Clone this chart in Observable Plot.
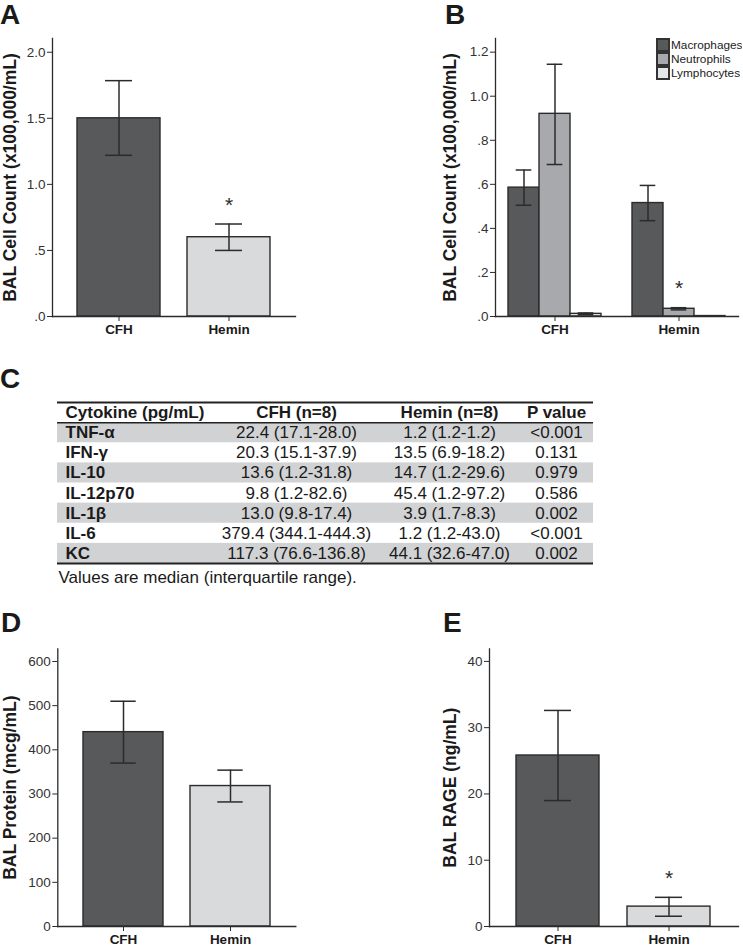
<!DOCTYPE html>
<html><head><meta charset="utf-8">
<script src="https://cdn.jsdelivr.net/npm/d3@7"></script>
<script src="https://cdn.jsdelivr.net/npm/@observablehq/plot@0.6"></script>
<style>
html,body{margin:0;padding:0;background:#fff;}
#page{position:relative;width:743px;height:946px;overflow:hidden;background:#fff;font-family:"Liberation Sans",Arial,Helvetica,sans-serif;}
.panel{position:absolute;}
.letter{position:absolute;font-weight:bold;font-size:28px;line-height:28px;color:#1a1a1a;font-family:"Liberation Sans",Arial,sans-serif;}
#legB{position:absolute;left:657px;top:38px;color:#222;}
#legB, #legB *{font-size:11.8px !important;font-family:"Liberation Sans",Arial,sans-serif !important;color:#222 !important;}
#legB .legb-swatch{height:14px;padding:0 !important;margin:0 !important;display:flex;align-items:center;}
#legB svg{margin-right:2px !important;}
#legB svg rect{stroke:#333;stroke-width:2px;}
</style></head>
<body>
<div id="page">
  <div class="letter" style="left:0px;top:1px">A</div>
  <div class="letter" style="left:445px;top:1px">B</div>
  <div class="letter" style="left:0px;top:365px">C</div>
  <div class="letter" style="left:1px;top:609px">D</div>
  <div class="letter" style="left:443px;top:609px">E</div>
</div>
<script>
// ---------- DATA ----------
const groups = ["CFH", "Hemin"];
const groupColors = ["#58595b", "#d9dadb"];

// Panel A: BAL cell count (x100,000/mL)
const totalCellMean = [1.50, 0.60];
const totalCellLo = [1.22, 0.50];
const totalCellHi = [1.785, 0.70];
const totalCellSig = [false, true];

// Panel B: differential cell counts
const cellTypes = ["Macrophages", "Neutrophils", "Lymphocytes"];
const cellColors = ["#58595b", "#a7a9ac", "#e6e7e8"];
const cfhCellMean = [0.585, 0.92, 0.012];
const cfhCellLo = [0.505, 0.69, 0.008];
const cfhCellHi = [0.665, 1.145, 0.016];
const heminCellMean = [0.515, 0.035, 0.002];
const heminCellLo = [0.435, 0.030, 0.001];
const heminCellHi = [0.595, 0.040, 0.003];
const heminCellSig = [false, true, false];

// Panel C: cytokine table
const tableHeaders = ["Cytokine (pg/mL)", "CFH (n=8)", "Hemin (n=8)", "P value"];
const cytokines = ["TNF-α", "IFN-γ", "IL-10", "IL-12p70", "IL-1β", "IL-6", "KC"];
const cfhMedian = [22.4, 20.3, 13.6, 9.8, 13.0, 379.4, 117.3];
const cfhQ1 = [17.1, 15.1, 1.2, 1.2, 9.8, 344.1, 76.6];
const cfhQ3 = [28.0, 37.9, 31.8, 82.6, 17.4, 444.3, 136.8];
const heminMedian = [1.2, 13.5, 14.7, 45.4, 3.9, 1.2, 44.1];
const heminQ1 = [1.2, 6.9, 1.2, 1.2, 1.7, 1.2, 32.6];
const heminQ3 = [1.2, 18.2, 29.6, 97.2, 8.3, 43.0, 47.0];
const pValues = ["<0.001", "0.131", "0.979", "0.586", "0.002", "<0.001", "0.002"];
const tableNote = "Values are median (interquartile range).";

// Panel D: BAL protein (mcg/mL)
const proteinMean = [440, 318];
const proteinLo = [370, 282];
const proteinHi = [510, 354];
const proteinSig = [false, false];

// Panel E: BAL RAGE (ng/mL)
const rageMean = [25.8, 3.0];
const rageLo = [19.0, 1.55];
const rageHi = [32.6, 4.4];
const rageSig = [false, true];

// ---------- HELPERS ----------
const FONT = '"Liberation Sans", Arial, Helvetica, sans-serif';
const INK = "#2b2b2b";
const page = document.getElementById("page");
const dotFmt = d => d3.format(".1f")(d).replace(/^0\./, ".");
const intFmt = d => d3.format("d")(d);

function place(el, left, top) {
  el.classList.add("panel");
  el.style.left = left + "px";
  el.style.top = top + "px";
  page.appendChild(el);
}

function commonMarks(rows, xKey, capInset, yTicks, tickFmt, yLabel, labelDx, xTicks, xTickFmt) {
  return [
    Plot.barY(rows, {x: xKey, y: "mean", fill: d => d.colorKey, stroke: INK, strokeWidth: 1.4}),
    Plot.ruleX(rows, {x: xKey, y1: "lo", y2: "hi", stroke: INK, strokeWidth: 1.5}),
    Plot.tickY(rows, {x: xKey, y: "lo", stroke: INK, strokeWidth: 1.5, insetLeft: capInset, insetRight: capInset}),
    Plot.tickY(rows, {x: xKey, y: "hi", stroke: INK, strokeWidth: 1.5, insetLeft: capInset, insetRight: capInset}),
    Plot.text(rows.filter(d => d.sig), {x: xKey, y: "hi", text: () => "*", dy: -19, fontSize: 21, fill: INK}),
    Plot.frame({anchor: "left", stroke: INK, strokeWidth: 1.3}),
    Plot.frame({anchor: "bottom", stroke: INK, strokeWidth: 1.3}),
    Plot.axisY({ticks: yTicks, tickFormat: tickFmt, tickSize: 5, tickPadding: 2, stroke: INK, fill: "#333", fontSize: 13.5, label: null}),
    Plot.axisX({ticks: xTicks, tickFormat: xTickFmt, tickSize: 5, tickPadding: 3, stroke: INK, fill: "#1a1a1a", fontSize: 13.5, fontWeight: "bold", label: null}),
    Plot.text([yLabel], {frameAnchor: "left", textAnchor: "middle", lineAnchor: "middle", rotate: -90, dx: labelDx,
      fontSize: 17.5, fontWeight: "bold", fill: "#1a1a1a"})
  ];
}

function groupPanel(opt) {
  const rows = groups.map((g, i) => ({group: g, colorKey: g, mean: opt.mean[i], lo: opt.lo[i], hi: opt.hi[i], sig: opt.sig[i]}));
  return Plot.plot({
    width: opt.width, height: opt.height,
    marginLeft: opt.ml, marginRight: opt.mr, marginTop: opt.mt, marginBottom: opt.mb,
    style: {fontFamily: FONT, fontSize: "13.5px", color: "#333", background: "transparent", overflow: "visible"},
    x: {type: "band", domain: groups, paddingInner: opt.pi, paddingOuter: opt.po},
    y: {domain: opt.yDomain},
    color: {domain: groups, range: groupColors},
    marks: commonMarks(rows, "group", opt.cap, opt.yTicks, opt.tickFmt, opt.yLabel, opt.labelDx, undefined, d => d)
  });
}

// ---------- PANEL A ----------
const chartA = groupPanel({
  mean: totalCellMean, lo: totalCellLo, hi: totalCellHi, sig: totalCellSig,
  width: 370, height: 340, ml: 52, mr: 75, mt: 38, mb: 24, pi: 0.245, po: 0.227, cap: 28,
  yDomain: [0, 2.104], yTicks: [0, 0.5, 1, 1.5, 2], tickFmt: dotFmt,
  yLabel: "BAL Cell Count (x100,000/mL)", labelDx: -42
});
place(chartA, 0, 0);

// ---------- PANEL B ----------
const bRows = [];
const bMean = [cfhCellMean, heminCellMean], bLo = [cfhCellLo, heminCellLo], bHi = [cfhCellHi, heminCellHi];
const bSig = [[false, false, false], heminCellSig];
groups.forEach((g, gi) => cellTypes.forEach((t, ti) => bRows.push({
  key: g + "|" + t, group: g, colorKey: t, mean: bMean[gi][ti], lo: bLo[gi][ti], hi: bHi[gi][ti], sig: bSig[gi][ti]
})));
const bDomain = [];
groups.forEach((g, gi) => {
  if (gi > 0) bDomain.push("gap");
  cellTypes.forEach(t => bDomain.push(g + "|" + t));
});
const chartB = Plot.plot({
  width: 373, height: 340, marginLeft: 125, marginRight: 5, marginTop: 38, marginBottom: 24,
  style: {fontFamily: FONT, fontSize: "13.5px", color: "#333", background: "transparent", overflow: "visible"},
  x: {type: "band", domain: bDomain, paddingInner: 0, paddingOuter: 0.375},
  y: {domain: [0, 1.262]},
  color: {domain: cellTypes, range: cellColors},
  marks: commonMarks(bRows, "key", 7.7, [0, 0.2, 0.4, 0.6, 0.8, 1.0, 1.2], dotFmt,
    "BAL Cell Count (x100,000/mL)", -45,
    groups.map(g => g + "|" + cellTypes[1]), d => d.split("|")[0])
});
place(chartB, 370, 0);
const legB = document.createElement("div");
legB.id = "legB";
legB.appendChild(chartB.legend("color", {legend: "swatches", columns: 1, swatchSize: 12, className: "legb"}));
page.appendChild(legB);

// ---------- PANEL C (table) ----------
const fmt1 = d => d.toFixed(1);
const tableRows = cytokines.map((c, i) => ({
  row: i + 1,
  cols: [c,
    `${fmt1(cfhMedian[i])} (${fmt1(cfhQ1[i])}-${fmt1(cfhQ3[i])})`,
    `${fmt1(heminMedian[i])} (${fmt1(heminQ1[i])}-${fmt1(heminQ3[i])})`,
    pValues[i]]
}));
// band x-scale: 4 bands of 134px over [57, 593]; centres 124, 258, 392, 526
const colLayout = [
  {anchor: "start", dx: -59},
  {anchor: "middle", dx: 38},
  {anchor: "middle", dx: 57},
  {anchor: "middle", dx: 30}
];
const tableMarks = [
  Plot.rect(tableRows.filter(d => d.row % 2 === 1), {y1: d => d.row, y2: d => d.row + 1, fill: "#d1d2d4"}),
  Plot.ruleY([0], {stroke: "#222", strokeWidth: 2}),
  Plot.ruleY([1], {stroke: "#222", strokeWidth: 1.5}),
  Plot.ruleY([tableRows.length + 1], {stroke: "#222", strokeWidth: 2})
];
tableHeaders.forEach((h, ci) => {
  const L = colLayout[ci];
  tableMarks.push(Plot.text([h], {x: () => h, y: () => 0.5, text: d => d, textAnchor: L.anchor, dx: L.dx,
    fontWeight: "bold", fontSize: 17, fill: "#1a1a1a"}));
  tableMarks.push(Plot.text(tableRows, {x: () => h, y: d => d.row + 0.5, text: d => d.cols[ci], textAnchor: L.anchor, dx: L.dx,
    fontWeight: ci === 0 ? "bold" : "normal", fontSize: 17, fill: "#1a1a1a"}));
});
tableMarks.push(Plot.text([tableNote], {frameAnchor: "bottom-left", textAnchor: "start", lineAnchor: "middle", dy: 14, dx: 1, fontSize: 17, fill: "#1a1a1a"}));
const chartC = Plot.plot({
  width: 743, height: 260, marginLeft: 57, marginRight: 150, marginTop: 62, marginBottom: 37,
  style: {fontFamily: FONT, fontSize: "17px", color: "#1a1a1a", background: "transparent", overflow: "visible"},
  x: {type: "band", domain: tableHeaders, padding: 0, axis: null},
  y: {domain: [0, tableRows.length + 1], reverse: true, axis: null},
  marks: tableMarks
});
place(chartC, 0, 340);

// ---------- PANEL D ----------
const chartD = groupPanel({
  mean: proteinMean, lo: proteinLo, hi: proteinHi, sig: proteinSig,
  width: 370, height: 326, ml: 57.3, mr: 74.7, mt: 28.3, mb: 20, pi: 0.248, po: 0.233, cap: 27.3,
  yDomain: [0, 628.7], yTicks: [0, 100, 200, 300, 400, 500, 600], tickFmt: intFmt,
  yLabel: "BAL Protein (mcg/mL)", labelDx: -47
});
place(chartD, 0, 620);

// ---------- PANEL E ----------
const chartE = groupPanel({
  mean: rageMean, lo: rageLo, hi: rageHi, sig: rageSig,
  width: 373, height: 326, ml: 119, mr: 5, mt: 28.3, mb: 20, pi: 0.249, po: 0.237, cap: 28,
  yDomain: [0, 41.9], yTicks: [0, 10, 20, 30, 40], tickFmt: intFmt,
  yLabel: "BAL RAGE (ng/mL)", labelDx: -39
});
place(chartE, 370, 620);

// keep panel letters on top
page.querySelectorAll(".letter").forEach(el => page.appendChild(el));
</script>
</body></html>
